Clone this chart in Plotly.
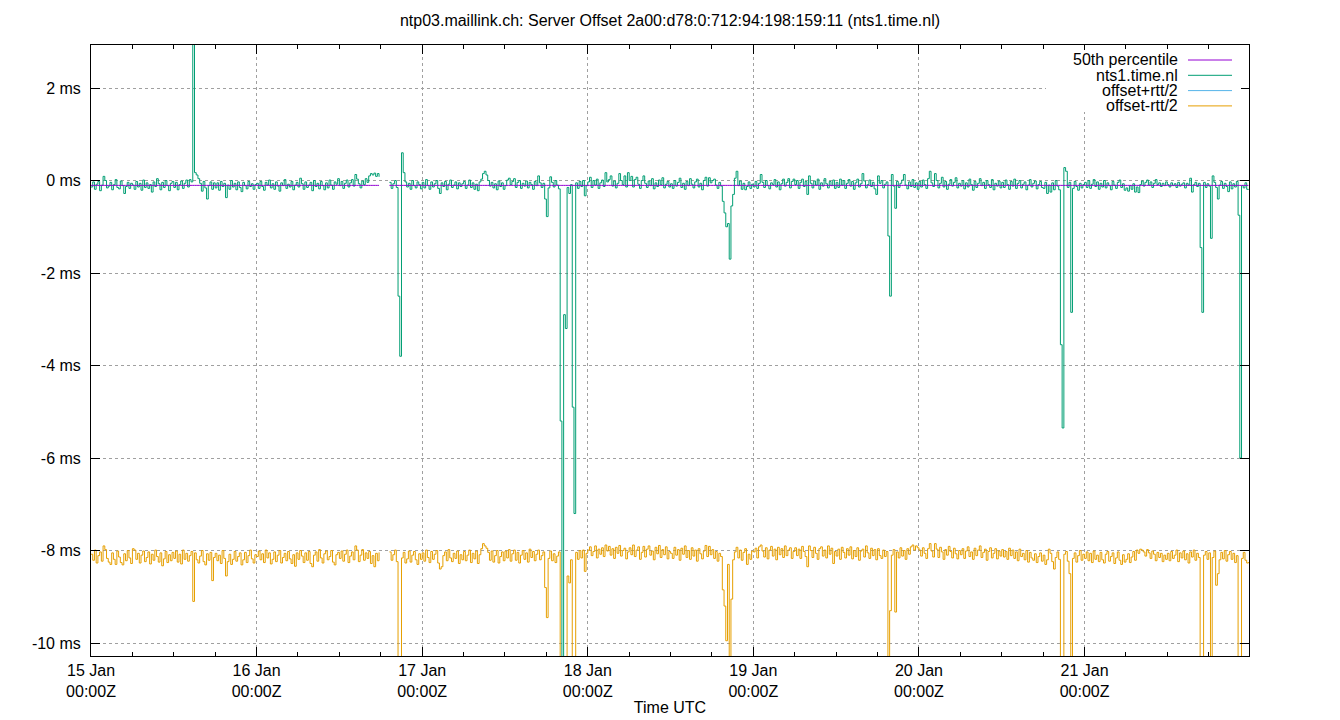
import numpy as np
import pandas as pd
import plotly.graph_objects as go

# ---------------- data ----------------
start_time = "2025-01-15 00:00"
end_time = "2025-01-21 23:50"
sample_step = "15min"

title_text = "ntp03.maillink.ch: Server Offset 2a00:d78:0:712:94:198:159:11 (nts1.time.nl)"
series_names = ["50th percentile", "nts1.time.nl", "offset+rtt/2", "offset-rtt/2"]
series_colors = ["#9400d3", "#009e73", "#56b4e9", "#e69f00"]

percentile_50_ms = -0.105

y_tick_values = [-10, -8, -6, -4, -2, 0, 2]
y_tick_labels = ["-10 ms", "-8 ms", "-6 ms", "-4 ms", "-2 ms", "0 ms", "2 ms"]

# offset of nts1.time.nl, microseconds, one value per 15 minutes (rows = 6 hours)
offset_us = [
    # 15 Jan
    -140, -30, -190, -80, -20, -220, -100, 90, 0, -160, -120, -40, -200, -90, 20, -150, -180, -10, -110, -280, -130, -40, -170, -60,
    -100, -190, -20, -140, -60, -210, 10, -150, -50, -170, -90, -250, -30, -130, 40, -70, -200, -40, -150, 0, -110, -220, -60, -20,
    -150, -40, -200, -90, -10, -170, -60, 10, -140, 20, -30, 3500, 170, 120, 40, -60, -230, -20, -160, -400, -110, -30, -190, -50,
    -160, -50, -210, -20, -130, -60, -370, -100, -190, 0, -140, -60, -200, -30, -150, -240, -40, -110, -180, -20, -130, -70, -190, -90,
    # 16 Jan
    -60, -170, -20, -130, -210, -40, -100, 10, -160, -70, -190, -30, -120, -230, -50, -110, 20, -170, -80, -140, -20, -200, -100, -40,
    -140, 50, -70, -190, -30, -150, -100, -40, -220, 0, -130, -60, -180, -20, -110, -200, -50, -160, 10, -100, -190, -30, -80, 40,
    -110, -20, -170, -60, 10, -140, -50, 20, -120, 130, 30, -70, -160, -10, -90, 40, -40, 100, 150, 120, 160, 90, 150, 80,
    None, None, None, None, None, -40, -170, -70, 0, -150, -2500, -3800, 600, 170, -30, -140, -60, -190, 0, -110, -160, -30, -90, -180,
    # 17 Jan
    -40, -160, 20, -110, -190, -30, -140, -70, 0, -170, -280, -50, -130, -20, -200, -80, 10, -150, -100, -30, -180, -50, -130, -70,
    -20, -170, -100, 10, -150, -50, -190, -80, -220, -30, 30, 150, 200, 120, 0, -120, -40, -160, -70, -200, -10, -130, -50, -190,
    -110, 10, 50, -90, -20, 40, -150, -40, 0, -170, -60, -120, -10, -160, -40, -90, -190, -20, -110, 100, -50, -150, -60, -400,
    -780, -160, 80, -40, -140, 0, -100, -180, -5200, -10600, -2900, -3200, -150, -280, -90, -4900, -7200, -50, -170, -20, -130, 0, -330, -110,
    # 18 Jan
    -30, 70, -150, 0, -100, 30, -170, -50, 10, -130, 170, -30, 20, 100, -120, -10, -160, -60, 150, 0, -90, 100, -140, 170,
    0, 90, -140, 20, 70, -80, -170, 0, 100, -60, -150, -10, -110, 40, -180, -50, -130, 10, -90, 60, -160, -80, -20, -140,
    -70, -170, 0, -120, -40, 50, -150, -60, -190, -20, -110, 40, -80, -160, -30, 30, -140, -60, -200, 0, 70, -120, 60, -50,
    0, 30, -100, -170, -40, -120, -450, -700, -1000, -930, -1700, -550, -300, 50, 200, -110, -10, -190, -60, -200, -130, -30, -170, -80,
    # 19 Jan
    -140, -20, -170, -60, 130, -40, -150, 0, -110, -180, -50, -90, 20, -140, -30, -200, -70, 30, -120, -40, 40, -160, -20, 30,
    -90, 0, -170, -40, 30, -130, -20, -300, 100, -60, -160, -10, -100, 30, -190, -50, -120, 40, -70, -160, -20, -110, 10, -170,
    -40, -150, 30, -100, 0, -170, -60, 20, -120, -20, -190, -50, 30, -140, -70, 150, -10, -160, -90, 10, -130, -40, -180, -300,
    100, -60, 0, -160, -80, -30, -1200, -2500, 130, -120, -600, -20, -150, -60, 10, 130, -100, -180, -30, -130, 20, -150, -50, -190,
    # 20 Jan
    -20, -140, 10, -90, -170, 40, 200, -50, -130, 150, 0, -160, -60, 70, -140, -20, -190, -80, 20, -120, -40, 60, -160, -60,
    -120, 0, -180, -50, -140, 30, -90, -210, -20, -150, -60, 40, -110, -40, -170, 0, -90, -150, 20, -200, -60, -120, -10, -160,
    -40, -150, 10, -90, -190, -20, -120, 30, -170, -60, 0, -160, -80, -30, -200, -100, 20, -140, -60, -10, -180, -90, -20, -150,
    -170, -40, -280, -100, -250, -50, -200, 0, -120, -200, -3550, -5350, 280, 200, -150, -40, -2850, -170, -20, -130, -210, -60, -160, -90,
    # 21 Jan
    -40, -150, 0, -170, -80, 20, -130, -30, -190, -60, -140, 0, -160, -50, -110, -200, -20, -100, -170, -40, 10, -150, -70, -210,
    -160, -230, -110, -190, -70, -250, -140, -260, -90, -10, -120, -40, 10, -100, -30, -150, -60, 20, -90, -50, -130, -60, -110, -30,
    -90, -140, -50, -110, -70, -150, -40, -120, -80, -50, -160, -60, -100, 50, -250, -90, -40, -130, -60, -1450, -2850, -40, -150, -70,
    -120, -1250, 100, -40, -150, -400, -100, -20, -170, -60, -130, -240, -30, -180, -70, -140, -20, -750, -6000, -110, -160, -50, -190, -200,
]

# offset - rtt/2, microseconds, same sampling
offset_minus_half_rtt_us = [
    # 15 Jan
    -8080, -8210, -7990, -8270, -8110, -8030, -8230, -7900, -7980, -8170, -8250, -8300, -8050, -8190, -8300, -8010, -8140, -8260, -8310, -8070, -8220, -8000, -8160, -8280,
    -7960, -7990, -8190, -8060, -8270, -8100, -8010, -8240, -8150, -8030, -8290, -8080, -8210, -7990, -8130, -8250, -8050, -8330, -8180, -8020, -8260, -8090, -8220, -8040,
    -8170, -8010, -8250, -8080, -8290, -7990, -8190, -8060, -8230, -8110, -8020, -9100, -8050, -8200, -8270, -8120, -8000, -8240, -8310, -8070, -8210, -8040, -8650, -8150,
    -8060, -8220, -8100, -8280, -8000, -8170, -8550, -8240, -8080, -8300, -8190, -8020, -8230, -8130, -8050, -8310, -8200, -8040, -8260, -8110, -7990, -8180, -8270, -8090,
    # 16 Jan
    -8130, -8010, -8200, -8070, -8260, -7990, -8160, -8050, -8290, -8190, -8030, -8240, -8100, -8000, -8270, -8150, -8060, -8220, -8020, -8180, -8280, -8090, -8340, -8050,
    -8190, -8000, -8120, -8260, -8050, -8210, -8020, -8280, -8350, -8100, -8030, -8230, -7980, -8160, -8270, -8070, -8010, -8200, -8130, -8000, -8250, -8310, -8090, -8040,
    -8170, -8010, -8230, -8080, -7990, -8260, -8120, -8030, -8200, -7900, -7990, -8240, -8100, -7980, -8210, -8050, -8170, -8020, -8280, -8110, -8350, -8060, -8220, -8040,
    None, None, None, None, None, -8030, -8210, -8090, -7990, -8240, -30000, -30000, -8160, -8040, -8270, -8180, -8010, -8250, -8100, -8020, -8200, -8300, -8070, -8190,
    # 17 Jan
    -8050, -8230, -7990, -8150, -8260, -8020, -8190, -8080, -8000, -8270, -8400, -8350, -8110, -8030, -8220, -7980, -8160, -8240, -8060, -8170, -8010, -8280, -8090, -8200,
    -8020, -8220, -8100, -7990, -8260, -8060, -8180, -8010, -8280, -8090, -7960, -7850, -7900, -7950, -8040, -8210, -8010, -8250, -8110, -8000, -8270, -8130, -8030, -8220,
    -8010, -8160, -7980, -8230, -8070, -7990, -8210, -8040, -8270, -8100, -8000, -8190, -8050, -8250, -7970, -8150, -8020, -8220, -8080, -7990, -8200, -8110, -8030, -8800,
    -9450, -8170, -8010, -8220, -8070, -8260, -8120, -8030, -30000, -30000, -30000, -30000, -8550, -8700, -8200, -30000, -30000, -8040, -8190, -8000, -8160, -7990, -8450, -8060,
    # 18 Jan
    -7990, -7920, -8110, -8020, -7900, -8160, -7970, -8080, -7940, -8130, -7880, -8010, -7910, -8100, -7960, -8170, -7930, -8060, -7890, -8120, -8000, -7950, -8180, -8030,
    -7940, -8090, -7880, -8130, -7990, -7920, -8190, -8040, -7910, -8140, -7970, -7900, -8100, -8010, -8200, -7930, -8070, -7890, -8150, -7980, -8090, -7920, -8180, -8020,
    -8060, -8170, -7930, -8100, -7980, -8210, -7950, -8080, -7900, -8150, -8000, -8190, -7940, -8120, -7990, -8230, -7960, -8070, -8180, -8010, -7890, -8130, -7910, -8090,
    -7980, -8170, -8020, -8230, -8060, -8130, -8850, -9200, -9950, -8300, -30000, -9050, -8200, -8030, -7930, -8160, -7990, -8210, -8040, -7960, -8300, -8080, -8190, -8010,
    # 19 Jan
    -8030, -7950, -8160, -7920, -7880, -8010, -8140, -7940, -8180, -7990, -7910, -8120, -7970, -8200, -7930, -8090, -7960, -8150, -7900, -8110, -7990, -7940, -8170, -8020,
    -7940, -8110, -7970, -8170, -7910, -8020, -8130, -8350, -7900, -8000, -8150, -7930, -8060, -8190, -7960, -7920, -8120, -7990, -8160, -7900, -8080, -7950, -8280, -8020,
    -8120, -7970, -8190, -7930, -8040, -8160, -7960, -8100, -7920, -8180, -8000, -8130, -7940, -8210, -8010, -7970, -8140, -7900, -8050, -8170, -7950, -8110, -7980, -8200,
    -7960, -8110, -8170, -7990, -8130, -8020, -30000, -9300, -8100, -7980, -9330, -8030, -8160, -7940, -8120, -8000, -8190, -7960, -8080, -7920, -7880, -7990, -7900, -7940,
    # 20 Jan
    -7990, -8120, -7940, -8060, -8170, -7960, -7850, -8010, -8140, -7850, -7970, -8150, -7930, -8030, -8190, -7980, -8100, -7910, -8020, -8160, -7950, -8070, -8180, -8000,
    -8090, -7960, -8170, -8010, -7920, -8130, -8030, -8190, -7950, -8110, -7990, -7900, -8150, -8040, -7970, -8210, -8020, -7940, -8160, -8060, -7960, -8180, -8010, -8120,
    -7980, -8140, -8020, -8190, -7950, -8110, -7990, -8170, -8030, -8220, -7970, -8130, -8060, -8200, -8000, -8250, -8040, -8160, -8210, -8070, -8260, -8130, -8050, -8230,
    -8100, -8300, -8200, -7970, -8060, -8240, -8400, -8150, -8030, -8190, -30000, -30000, -8080, -8020, -8230, -8500, -30000, -8170, -8050, -8250, -8110, -8000, -8210, -8080,
    # 21 Jan
    -8170, -8030, -8220, -8060, -8260, -8010, -8190, -8100, -8240, -8040, -8200, -8270, -8080, -8020, -8230, -8130, -8050, -8280, -8160, -8030, -8210, -8300, -8090, -8250,
    -8190, -8070, -8260, -8140, -8020, -8210, -7990, -8060, -7970, -7990, -8030, -8120, -7980, -8050, -8170, -8010, -8080, -8220, -8040, -8150, -8060, -8240, -8100, -8190,
    -8060, -8220, -8020, -8170, -8100, -7990, -8240, -8050, -8160, -8010, -8200, -8070, -8270, -8030, -8140, -7990, -8210, -8060, -8150, -30000, -30000, -8100, -8020, -8190,
    -8050, -30000, -8150, -8010, -8750, -8500, -8200, -8040, -8180, -8000, -8230, -8090, -8020, -8190, -8060, -8260, -8110, -30000, -30000, -8170, -8040, -8210, -8270, -8250,
]

# ---------------- derived ----------------
n = min(len(offset_us), len(offset_minus_half_rtt_us))
times = pd.date_range(start_time, periods=n, freq=sample_step)
offset_ms = np.array([np.nan if v is None else v for v in offset_us[:n]], dtype=float) / 1000.0
low_ms = np.array([np.nan if v is None else v for v in offset_minus_half_rtt_us[:n]], dtype=float) / 1000.0
high_ms = 2 * offset_ms - low_ms
median_ms = np.where(np.isnan(offset_ms), np.nan, percentile_50_ms)

font_family = "Liberation Sans, Arial, sans-serif"
grid_color = "#a0a0a0"

series_values = {
    "50th percentile": median_ms,
    "nts1.time.nl": offset_ms,
    "offset+rtt/2": high_ms,
    "offset-rtt/2": low_ms,
}
color_of = dict(zip(series_names, series_colors))
draw_order = ["nts1.time.nl", "50th percentile", "offset+rtt/2", "offset-rtt/2"]

fig = go.Figure()
for name in draw_order:
    fig.add_trace(go.Scatter(
        x=times, y=series_values[name], name=name, mode="lines",
        line=dict(color=color_of[name], width=1, shape="hv"),
        connectgaps=False, showlegend=False,
    ))

# plot area in pixels: x 91..1249, y 45..656
L, R, T, B = 91, 1249, 45, 656
W, H = R - L, B - T


def px_x(x):
    return (x - L) / W


def px_y(y):
    return (B - y) / H


shapes = [dict(type="rect", xref="paper", yref="paper",
               x0=px_x(1046), x1=px_x(1241), y0=px_y(112), y1=px_y(50),
               fillcolor="white", line=dict(width=0), layer="above")]
annotations = []
legend_rows_px = [60, 75.3, 90.6, 105.9]
for name, color, ypx in zip(series_names, series_colors, legend_rows_px):
    annotations.append(dict(
        x=px_x(1180), y=px_y(ypx), xref="paper", yref="paper",
        text=name, showarrow=False, xanchor="right", yanchor="middle",
        font=dict(family=font_family, size=16, color="black"),
    ))
    shapes.append(dict(type="line", xref="paper", yref="paper",
                       x0=px_x(1188), x1=px_x(1232), y0=px_y(ypx), y1=px_y(ypx),
                       line=dict(color=color, width=1), layer="above"))

axis_common = dict(
    showline=True, linecolor="black", linewidth=1, mirror="ticks",
    ticks="inside", tickcolor="black", ticklen=9, tickwidth=1,
    showgrid=True, gridcolor=grid_color, gridwidth=1, griddash="3px,3px",
    zeroline=False, automargin=False,
    tickfont=dict(family=font_family, size=16, color="black"),
)

fig.update_layout(
    width=1340, height=720,
    margin=dict(l=L, r=1340 - R, t=T, b=720 - B, pad=0, autoexpand=False),
    paper_bgcolor="white", plot_bgcolor="white",
    font=dict(family=font_family, size=16, color="black"),
    title=dict(text=title_text, x=0.5, xanchor="center", xref="paper",
               y=1 - 20 / 720, yanchor="middle", yref="container",
               font=dict(family=font_family, size=16, color="black")),
    xaxis=dict(
        type="date", range=[start_time, end_time],
        tick0=start_time, dtick=86400000, tickformat="%d %b<br>%H:%MZ",
        minor=dict(dtick=6 * 3600000, ticks="inside", ticklen=4, tickcolor="black", showgrid=False),
        title=dict(text="Time UTC", font=dict(family=font_family, size=16, color="black"), standoff=2),
        **axis_common,
    ),
    yaxis=dict(
        range=[-10.28, 2.93],
        tickmode="array", tickvals=y_tick_values, ticktext=y_tick_labels,
        ticklabelstandoff=6,
        **axis_common,
    ),
    shapes=shapes,
    annotations=annotations,
    showlegend=False,
)

fig.write_html(
    "out.html",
    config={"displayModeBar": False},
    post_script="document.body.style.margin='0';document.body.style.overflow='hidden';",
)
